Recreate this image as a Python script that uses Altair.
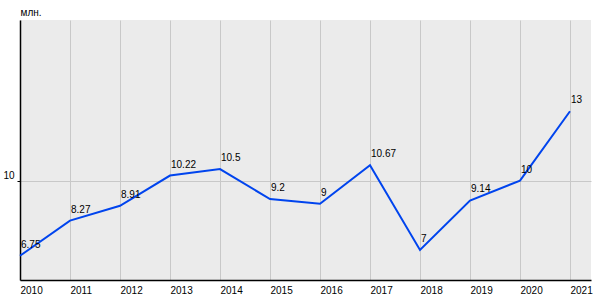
import altair as alt
import pandas as pd

years = [2010, 2011, 2012, 2013, 2014, 2015, 2016, 2017, 2018, 2019, 2020, 2021]
values = [6.75, 8.27, 8.91, 10.22, 10.5, 9.2, 9.0, 10.67, 7.0, 9.14, 10.0, 13.0]
labels = ["6.75", "8.27", "8.91", "10.22", "10.5", "9.2", "9", "10.67", "7", "9.14", "10", "13"]

df = pd.DataFrame({"year": years, "value": values, "label": labels})

FONT = "Liberation Sans"

x = alt.X(
    "year:Q",
    scale=alt.Scale(domain=[2010, 2021.42], nice=False, zero=False),
    axis=alt.Axis(
        values=years, format="d", title=None, grid=True, gridColor="#c8c8c8",
        gridWidth=1, tickSize=0, labelAlign="left", labelPadding=5, labelFontSize=10,
        labelFont=FONT, labelColor="#000000", domainColor="#000000", domainWidth=1.5,
        labelFlush=False, labelOverlap=False, labelBaseline="top",
    ),
)
y = alt.Y(
    "value:Q",
    scale=alt.Scale(domain=[5.7, 16.95], nice=False, zero=False),
    axis=alt.Axis(
        values=[10], title="млн.", titleAngle=0, titleX=0, titleY=-3,
        titleAlign="left", titleBaseline="bottom", titleFontSize=10,
        titleFont=FONT, titleFontWeight="normal", titleColor="#000000",
        grid=True, gridColor="#c8c8c8", gridWidth=1, tickSize=3,
        tickColor="#000000", labelFontSize=10, labelFont=FONT,
        labelColor="#000000", labelBaseline="bottom", labelPadding=3,
        domainColor="#000000", domainWidth=1.5,
    ),
)

line = alt.Chart(df).mark_line(color="#0044ee", strokeWidth=2).encode(x=x, y=y)
text = alt.Chart(df).mark_text(
    align="left", baseline="bottom", dx=1, dy=-6, fontSize=10, font=FONT, color="#000000"
).encode(x="year:Q", y="value:Q", text="label:N")

chart = (
    alt.layer(line, text)
    .properties(
        width=571, height=260,
        autosize=alt.AutoSizeParams(type="none"),
        padding={"left": 20, "top": 20, "right": 9, "bottom": 20},
        background="#ffffff",
    )
    .configure_view(fill="#ebebeb", stroke=None)
)

chart.save("out.html", embed_options={"renderer": "svg", "actions": False})
